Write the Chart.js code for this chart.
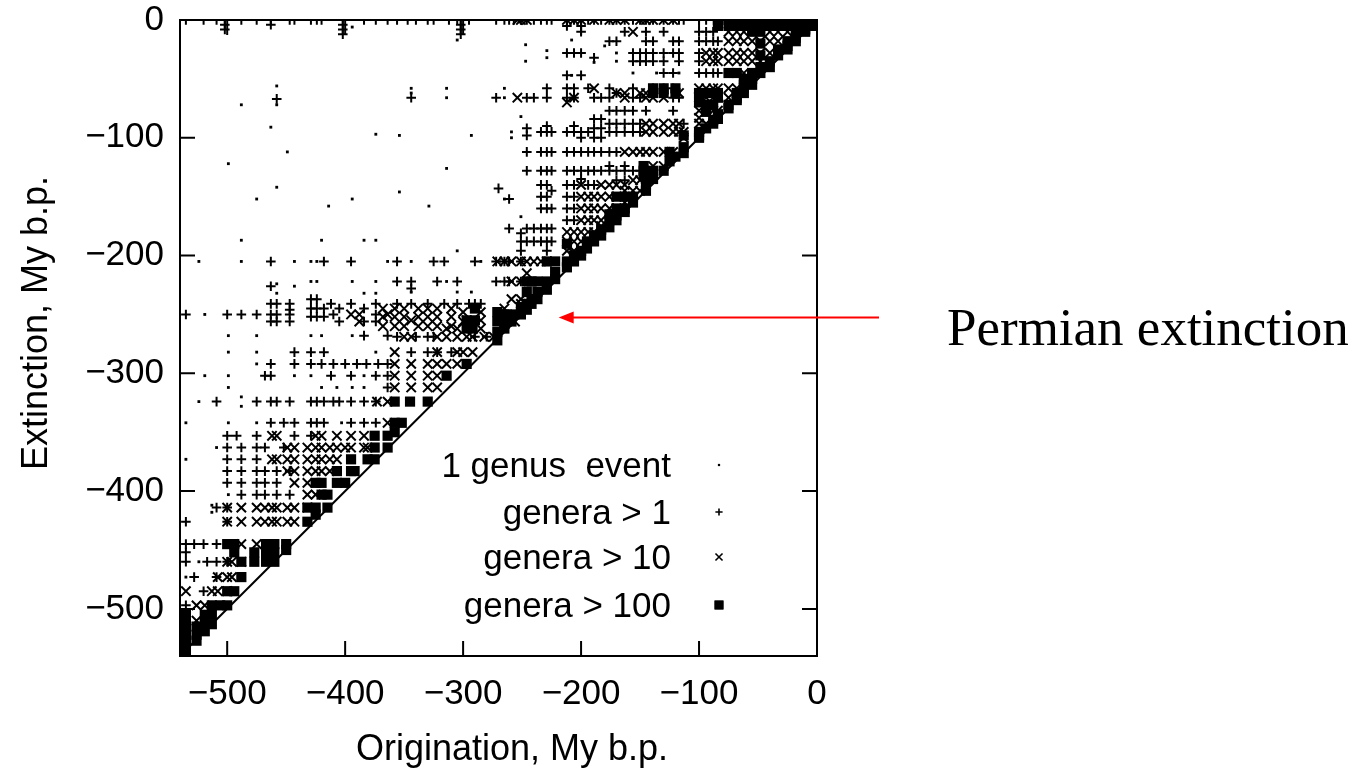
<!DOCTYPE html>
<html><head><meta charset="utf-8">
<script src="https://cdn.jsdelivr.net/npm/chart.js@4.4.1/dist/chart.umd.min.js"></script>
<style>html,body{margin:0;padding:0;background:#fff;} #wrap{width:1354px;height:769px;position:relative;}</style>
</head><body><div id="wrap"><canvas id="c" width="1354" height="769"></canvas></div>
<script>
// ---------- data (Ma before present; [origination, [extinction values]]) ----------
const xTicks = [-500, -400, -300, -200, -100, 0];
const yTicks = [-500, -400, -300, -200, -100, 0];
const xTitle = 'Origination, My b.p.';
const yTitle = 'Extinction, My b.p.';
const seriesNames = ['1 genus  event', 'genera > 1', 'genera > 10', 'genera > 100'];
const annotationText = 'Permian extinction';
const annotationTarget = [-219, -252.5];

const dotCols = [
 [-535, [-342, -373, -473]], [-524, [-205, -324, -460]], [-519, [-250, -302]], [-513, [-412, -418]],
 [-509, [-363]], [-499, [-122, -268, -282, -302, -312, -342, -403]], [-488, [-72, -187, -205, -320, -328]],
 [-475, [-152, -268, -282, -292, -342]], [-463, [-91]], [-458, [-56, -72, -142, -224, -232]],
 [-449, [-112]], [-443, [-205, -226, -302]], [-429, [-205, -222, -268, -302]], [-424, [-205, -222]],
 [-420, [-187, -268, -312]], [-414, [-158]], [-407, [-312]], [-403, [-342]],
 [-394, [-6, -152, -222, -268, -312]], [-384, [-187, -232, -302, -312]], [-374, [-97, -187, -222, -232, -282]],
 [-364, [-205]], [-354, [-98, -146]], [-344, [-58, -62, -205, -231]], [-329, [-158]],
 [-314, [-58, -66, -126, -222]], [-305, [-17, -196, -231]], [-293, [-98, -231]], [-285, [-205]],
 [-265, [-58, -66, -152]], [-259, [-95, -100]], [-251, [-82, -167]], [-247, [-21, -35]],
 [-229, [-26, -32]], [-208, [-17, -47]], [-189, [-36]], [-180, [-22]], [-170, [-28, -35]],
 [-156, [-45]], [-136, [-45]], [-117, [-45]]
];

const plusCols = [
 [-535, [0, -250, -426, -445, -452, -460, -497]], [-528, [-445, -473]], [-520, [0, -445, -485]],
 [-517, [-460]], [-509, [0, -324, -414, -445, -460, -473]], [-502, [0, -4, -8]],
 [-500, [-250, -353, -363, -373, -383, -393, -414, -426, -460]], [-492, [-353]],
 [-488, [0, -250, -363, -373, -383, -393, -403]], [-475, [0, -250, -324, -353, -363, -373, -383, -393, -403]],
 [-468, [-302, -363, -383, -393, -403]], [-463, [0, -4, -205, -226, -241, -250, -256, -292, -302, -324, -342]],
 [-458, [-67, -241, -250, -256, -324, -383, -393, -403]], [-452, [-342, -363]],
 [-447, [0, -241, -246, -250, -256, -324, -383, -403]], [-443, [0, -282, -292, -342, -353]],
 [-429, [0, -237, -245, -252, -282, -292, -324, -342, -353]], [-424, [0, -237, -245, -252, -324, -342]],
 [-418, [-205, -245, -252, -282, -324, -342]], [-420, [0, -292]], [-412, [-302, -241]], [-410, [-250, -292, -324]],
 [-405, [-245, -256, -324]], [-402, [0, -4, -8, -12]], [-400, [-292]], [-395, [-205, -241, -302, -324, -342]],
 [-390, [-292]], [-384, [0, -245, -256, -268, -324, -342]], [-382, [-292]],
 [-374, [0, -241, -250, -256, -302, -324, -342]], [-372, [-292]], [-364, [0, -268, -292, -302, -312]],
 [-356, [0, -205, -222, -241, -269]], [-347, [0]], [-344, [-66, -222, -228, -241, -282]], [-340, [0, -269]],
 [-330, [0, -241, -269, -282]], [-325, [0, -205, -269]], [-322, [-222, -282]], [-316, [-205, -241]],
 [-312, [0]], [-310, [-282]], [-305, [0, -222, -241]], [-302, [0, -4, -8, -12]],
 [-295, [0, -241]], [-290, [-205, -241, -269]], [-285, [-241]], [-280, [-269]],
 [-272, [0, -66, -205, -222]], [-270, [-143]], [-265, [0, -205, -222]], [-261, [0, -152, -177, -205, -222]],
 [-257, [0]], [-251, [0, -181, -188, -196, -205, -222]], [-246, [0, -66, -92, -98, -112, -128, -177, -188]],
 [-240, [0, -66, -177, -188]], [-234, [0, -95, -112, -128, -140, -150, -160, -177, -188]],
 [-229, [0, -58, -66, -90, -95, -112, -128, -140, -150, -160, -177, -188, -196]],
 [-225, [0, -95, -112, -128, -145, -160, -177, -188]],
 [-212, [0, -5, -28, -47, -58, -66, -95, -112, -128, -140, -150, -160, -170]],
 [-206, [0, -28, -58, -66, -90, -95, -112, -128, -140, -150, -160, -170]],
 [-200, [0, -5, -10, -28, -47, -95, -100, -112, -128, -135]], [-194, [0, -58, -95, -112, -128, -140]],
 [-189, [0, -32, -66, -84, -92, -100, -112, -128, -140]], [-183, [0, -66, -84, -92, -100, -112, -128]],
 [-176, [0, -18, -58, -66, -77, -88, -95, -112, -124, -128]], [-170, [0, -18, -62, -77, -88, -95, -112, -128, -136]],
 [-163, [0, -10, -77, -88, -95, -124, -128, -136]], [-156, [0, -28, -35, -58, -66, -77, -88, -95, -128]],
 [-150, [0, -28, -35, -66, -88, -95, -128]], [-145, [0, -10, -18, -28, -35, -77]], [-139, [0, -18, -28, -35, -58]],
 [-130, [0, -10, -28, -35, -45, -58]], [-122, [0, -18, -28, -45, -58, -66, -77]], [-117, [0, -18, -28, -35, -66]],
 [-113, [0, -88]], [-100, [0, -10, -18, -28, -35, -45]], [-94, [0, -10, -18, -45]], [-88, [-10, -18, -45]],
 [-84, [-18, -45]], [-75, [-45]], [-68, [-45]]
];

const crossCols = [
 [-535, [-485, -515]], [-526, [-497, -510]], [-519, [-497]], [-513, [-485]], [-508, [-473, -485]],
 [-500, [-414, -426, -460, -473, -485]], [-496, [-460, -473]], [-488, [-414, -426, -445, -460]],
 [-475, [-414, -426, -445]], [-468, [-414, -426]], [-462, [-353, -373, -414, -426]], [-458, [-353, -373, -414, -426]],
 [-449, [-363, -373, -383, -414, -426]], [-443, [-363, -373, -383, -393, -414, -426]],
 [-432, [-363, -373, -383, -393, -403, -414]], [-425, [-353, -363, -373, -383, -403]], [-420, [-353, -363, -373, -383]],
 [-413, [-363, -373, -383]], [-407, [-353, -363, -373]], [-400, [-363]], [-395, [-250, -353, -363]],
 [-388, [-250, -256]], [-384, [-353, -363]], [-381, [-363]], [-373, [-324]], [-368, [-245, -252, -260]],
 [-364, [-250, -324, -342]], [-358, [-245, -252, -260, -282, -292, -302, -312]], [-350, [-245, -252, -260, -269]],
 [-344, [-255, -269, -292, -302, -312]], [-338, [-245, -252, -260]],
 [-330, [-245, -252, -260, -292, -302, -312]], [-322, [-245, -252, -260, -269, -282, -292, -302, -312]],
 [-314, [-262, -269, -292]], [-310, [-245, -252, -260]], [-305, [-262, -269, -282, -292]], [-300, [-248, -256, -282]],
 [-297, [-255, -269]], [-292, [-269, -282]], [-285, [-248, -255, -262]], [-282, [-269]], [-274, [-269]],
 [-271, [-205]], [-265, [-205, -245]], [-259, [-205, -222, -237]], [-256, [-250, -256]], [-254, [0, -66]],
 [-251, [0, -205, -222, -237, -241]], [-246, [0, -205, -215]],
 [-240, [-205]], [-234, [-205]], [-229, [-205]], [-212, [0, -70, -180, -188, -196]],
 [-206, [0, -66, -180, -188, -196, -198]], [-200, [0, -140, -150, -160, -170, -180, -188]], [-194, [-150, -160, -170, -180]],
 [-189, [0, -58, -150, -160, -170, -180]], [-183, [-140, -150, -160, -170, -175]], [-176, [0, -140, -150, -160]],
 [-170, [0, -62, -140, -150, -160]], [-163, [0, -62, -66, -112, -140, -145, -155]], [-156, [-10, -112, -136, -145]],
 [-150, [0, -62, -112, -136, -145]], [-145, [0, -62, -66, -88, -95, -112]], [-139, [0, -66, -88, -95, -112, -124]],
 [-130, [0, -66, -88, -95, -112, -124]], [-122, [0, -88, -95, -112]], [-117, [-62, -88, -95]], [-113, [-95, -100]],
 [-100, [-58, -66, -77, -83, -88]], [-94, [-28, -35, -58, -66, -77, -88]], [-88, [-28, -35, -58, -66, -77]],
 [-84, [-28, -35, -58, -77]], [-75, [-10, -18, -28, -35, -58, -66]], [-68, [-10, -18, -28, -35, -58]],
 [-62, [-10, -18, -28, -35, -45]], [-55, [-18, -28, -35]], [-48, [-18, -28, -35]], [-40, [-10, -18, -28]],
 [-33, [-10, -18]], [-25, [-10]]
];

const squareCols = [
 [-535, [-505, -512, -520, -527, -535]], [-526, [-515, -522, -527]], [-519, [-505, -512, -519]],
 [-513, [-497, -505, -513]], [-506, [-497]], [-500, [-445, -485, -497]], [-494, [-445, -452, -485]],
 [-488, [-460, -473]], [-477, [-452, -460]], [-467, [-445, -452, -460]], [-460, [-445, -452, -460]],
 [-450, [-445, -450]], [-432, [-414, -426]], [-425, [-393, -414, -420]], [-420, [-393, -403]],
 [-415, [-403, -414]], [-407, [-383, -393]], [-400, [-393]], [-395, [-373, -383]], [-392, [-383]],
 [-381, [-373]], [-375, [-353, -363, -373]], [-364, [-353, -363]], [-358, [-324, -342, -350]], [-352, [-342]],
 [-345, [-324]], [-330, [-324]], [-314, [-302]], [-290, [-245, -255]], [-297, [-255, -262, -292]], [-292, [-262]],
 [-271, [-248, -256, -265, -272]], [-265, [-250, -258, -262]], [-259, [-250, -256]], [-251, [-244, -250]],
 [-246, [-222, -231, -241, -246]], [-242, [-222, -237, -241]], [-237, [-222, -231, -237]],
 [-229, [-205, -222, -229]], [-222, [-205, -214, -220]], [-212, [-190, -205, -210]], [-206, [-200, -205]],
 [-200, [-196, -200]], [-195, [-188, -194]], [-189, [-183, -188]], [-183, [-178, -183]],
 [-176, [-165, -170, -176]], [-170, [-150, -160, -166, -170]], [-163, [-150, -160, -163]], [-156, [-150, -155]],
 [-147, [-124, -128, -132]], [-145, [-135, -140, -145]], [-139, [-58, -62, -128, -135]], [-130, [-58, -62, -128]],
 [-125, [-112, -120]], [-120, [-58, -62, -116]], [-113, [-98, -108, -113]], [-100, [-62, -70, -95, -98, -100]],
 [-94, [-62, -72, -78, -92]], [-88, [-62, -72, -85, -88]], [-84, [0, -5, -62, -66, -80, -84]],
 [-75, [0, -5, -45, -72, -75]], [-68, [0, -5, -45, -62, -66, -68]], [-62, [0, -5, -50, -55, -58, -62]],
 [-55, [0, -5, -10, -45, -50, -55]], [-48, [0, -5, -10, -20, -30, -40, -45]], [-40, [0, -5, -35, -40]],
 [-33, [0, -5, -25, -30]], [-25, [0, -5, -18, -22, -25]], [-18, [0, -5, -10, -15, -18]],
 [-10, [0, -5, -8, -10]], [-5, [0, -3, -5]], [-2, [0]]
];
const diagonal = [[-540, -540], [0, 0]];

// ---------- build ----------
function flatten(cols) { const out = []; cols.forEach(([x, ys]) => ys.forEach(y => out.push({x, y}))); return out; }
const fmt = v => (v < 0 ? '\u2212' + Math.abs(v) : String(v));
const SANS = "'Liberation Sans', Arial, Helvetica, sans-serif";

const styles = [
  {pointStyle: 'rect', radius: 2, borderWidth: 0},
  {pointStyle: 'cross', radius: 4.8, borderWidth: 2},
  {pointStyle: 'crossRot', radius: 6.6, borderWidth: 2},
  {pointStyle: 'rect', radius: 7.2, borderWidth: 0}
];
const seriesData = [dotCols, plusCols, crossCols, squareCols].map(flatten);

const datasets = seriesData.map((d, i) => ({
  type: 'scatter', label: seriesNames[i], data: d,
  pointStyle: styles[i].pointStyle, pointRadius: styles[i].radius, pointHoverRadius: styles[i].radius,
  pointBorderWidth: styles[i].borderWidth, pointBackgroundColor: '#000', pointBorderColor: '#000', clip: 0
}));
datasets.push({
  type: 'line', label: 'diag', data: diagonal.map(([x, y]) => ({x, y})),
  borderColor: '#000', borderWidth: 2, pointRadius: 0, fill: false, clip: 0
});

const framePlugin = {
  id: 'frame',
  afterDatasetsDraw(chart) {
    const {ctx, chartArea: a, scales} = chart;
    const xs = scales.x, ys = scales.y;
    ctx.save();
    ctx.strokeStyle = '#000'; ctx.lineWidth = 2;
    ctx.strokeRect(a.left, a.top, a.right - a.left, a.bottom - a.top);
    const L = 15;
    ctx.beginPath();
    xTicks.forEach(v => { const p = xs.getPixelForValue(v);
      ctx.moveTo(p, a.bottom); ctx.lineTo(p, a.bottom - L); ctx.moveTo(p, a.top); ctx.lineTo(p, a.top + L); });
    yTicks.forEach(v => { const p = ys.getPixelForValue(v);
      ctx.moveTo(a.left, p); ctx.lineTo(a.left + L, p); ctx.moveTo(a.right, p); ctx.lineTo(a.right - L, p); });
    ctx.stroke();

    // axis titles
    ctx.fillStyle = '#000';
    ctx.font = '36px ' + SANS;
    ctx.textAlign = 'center'; ctx.textBaseline = 'alphabetic';
    ctx.fillText(xTitle, 512, 760);
    ctx.save();
    ctx.translate(47, 323); ctx.rotate(-Math.PI / 2);
    ctx.fillText(yTitle, 0, 0);
    ctx.restore();

    // legend (inside plot, bottom right)
    const rowsY = [465, 512, 557, 605];
    const textRight = 671, symX = 719;
    ctx.font = '35px ' + SANS;
    ctx.textAlign = 'right'; ctx.textBaseline = 'middle';
    const legStyles = [
      {pointStyle: 'rect', radius: 1.5, borderWidth: 0},
      {pointStyle: 'cross', radius: 3.6, borderWidth: 1.6},
      {pointStyle: 'crossRot', radius: 5, borderWidth: 1.6},
      {pointStyle: 'rect', radius: 6.3, borderWidth: 0}
    ];
    seriesNames.forEach((n, i) => {
      ctx.fillStyle = '#000'; ctx.strokeStyle = '#000';
      ctx.fillText(n, textRight, rowsY[i] + 2);
      ctx.lineWidth = legStyles[i].borderWidth;
      Chart.helpers.drawPoint(ctx, {pointStyle: legStyles[i].pointStyle, radius: legStyles[i].radius, borderWidth: legStyles[i].borderWidth}, symX, rowsY[i]);
      if (legStyles[i].pointStyle === 'rect') {
        const s = legStyles[i].radius * Math.SQRT1_2;
        ctx.fillRect(symX - s, rowsY[i] - s, 2 * s, 2 * s);
      }
    });

    // annotation arrow
    const tipX = xs.getPixelForValue(annotationTarget[0]);
    const tipY = ys.getPixelForValue(annotationTarget[1]);
    const tailX = a.right + 62;
    ctx.strokeStyle = '#ff0000'; ctx.fillStyle = '#ff0000'; ctx.lineWidth = 2;
    ctx.beginPath(); ctx.moveTo(tailX, tipY); ctx.lineTo(tipX + 10, tipY); ctx.stroke();
    ctx.beginPath(); ctx.moveTo(tipX, tipY); ctx.lineTo(tipX + 15, tipY - 6); ctx.lineTo(tipX + 15, tipY + 6); ctx.closePath(); ctx.fill();

    ctx.fillStyle = '#000';
    ctx.font = "53px 'Liberation Serif', 'Times New Roman', serif";
    ctx.textAlign = 'left'; ctx.textBaseline = 'alphabetic';
    ctx.fillText(annotationText, 947, 345);
    ctx.restore();
  }
};

new Chart(document.getElementById('c'), {
  data: {datasets},
  options: {
    responsive: false, animation: false, devicePixelRatio: 1,
    layout: {padding: {top: 20, right: 537, left: 0, bottom: 0}},
    plugins: {legend: {display: false}, tooltip: {enabled: false}},
    scales: {
      x: {
        type: 'linear', position: 'bottom', min: -540, max: 0,
        afterBuildTicks: s => { s.ticks = xTicks.map(v => ({value: v})); },
        afterFit: s => { s.height = 113; s.paddingLeft = 0; s.paddingRight = 0; },
        grid: {display: false, drawTicks: false}, border: {display: false},
        ticks: {color: '#000', font: {size: 35, family: SANS}, padding: 17, callback: fmt, maxRotation: 0, autoSkip: false},
        title: {display: false}
      },
      y: {
        type: 'linear', position: 'left', min: -540, max: 0,
        afterBuildTicks: s => { s.ticks = yTicks.map(v => ({value: v})); },
        afterFit: s => { s.width = 180; s.paddingTop = 0; s.paddingBottom = 0; },
        grid: {display: false, drawTicks: false}, border: {display: false},
        ticks: {color: '#000', font: {size: 35, family: SANS}, padding: 16, callback: fmt, autoSkip: false},
        title: {display: false}
      }
    }
  },
  plugins: [framePlugin]
});
</script>
</body></html>
